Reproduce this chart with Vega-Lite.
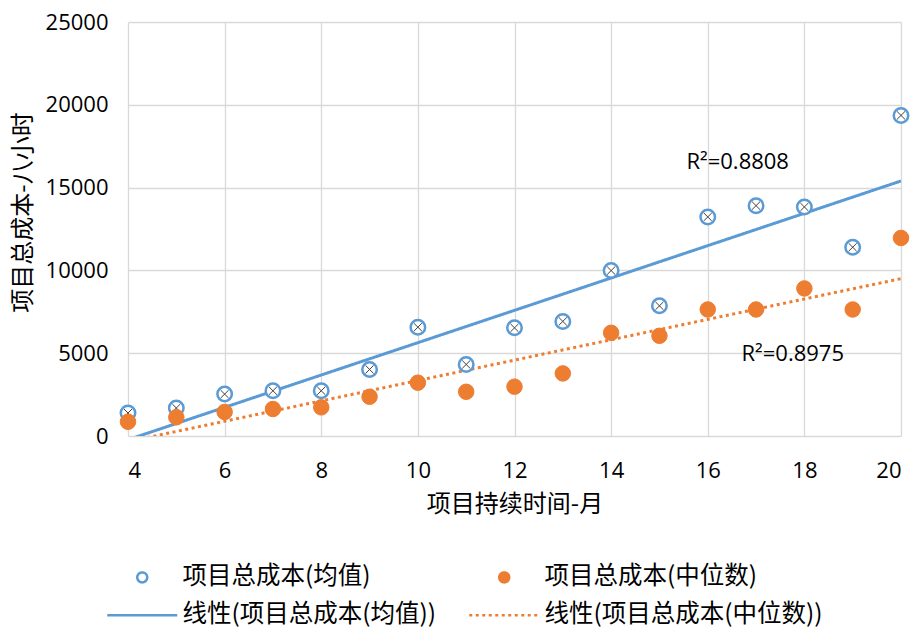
{
  "$schema": "https://vega.github.io/schema/vega-lite/v6.json",
  "width": 773,
  "height": 414,
  "autosize": "none",
  "padding": {"left": 128, "top": 22, "right": 15, "bottom": 193},
  "background": "white",
  "data": {"values": [
    {"x": 4, "mean": 1390, "median": 860},
    {"x": 5, "mean": 1690, "median": 1130},
    {"x": 6, "mean": 2530, "median": 1450},
    {"x": 7, "mean": 2730, "median": 1630},
    {"x": 8, "mean": 2730, "median": 1730},
    {"x": 9, "mean": 4020, "median": 2370},
    {"x": 10, "mean": 6570, "median": 3220},
    {"x": 11, "mean": 4320, "median": 2670},
    {"x": 12, "mean": 6530, "median": 2980},
    {"x": 13, "mean": 6920, "median": 3780},
    {"x": 14, "mean": 9990, "median": 6230},
    {"x": 15, "mean": 7860, "median": 6050},
    {"x": 16, "mean": 13230, "median": 7640},
    {"x": 17, "mean": 13910, "median": 7640},
    {"x": 18, "mean": 13830, "median": 8910},
    {"x": 19, "mean": 11400, "median": 7640},
    {"x": 20, "mean": 19360, "median": 11960}
  ]},
  "config": {
    "view": {"stroke": null},
    "axis": {
      "labelFont": "Open Sans", "labelFontSize": 22, "labelColor": "#000",
      "titleFont": "Noto Sans CJK SC", "titleFontSize": 24, "titleFontWeight": "normal", "titleColor": "#000",
      "ticks": false, "domain": false, "gridColor": "#d9d9d9", "gridWidth": 1.3
    },
    "axisX": {"labelPadding": 24, "titlePadding": 11},
    "axisY": {"labelPadding": 20, "titlePadding": 10, "titleY": 190, "format": "d"},
    "legend": {
      "labelFont": "Noto Sans CJK SC", "labelFontSize": 24.5, "labelColor": "#000", "labelLimit": 600,
      "symbolSize": 100, "symbolStrokeWidth": 2.5, "labelOffset": 28, "rowPadding": 13, "columnPadding": 27,
      "padding": 0, "direction": "horizontal"
    }
  },
  "layer": [
    {
      "transform": [{"regression": "mean", "on": "x", "extent": [4, 20]}],
      "mark": {"type": "line", "clip": true, "strokeWidth": 3},
      "encoding": {
        "x": {"field": "x", "type": "quantitative", "scale": {"domain": [4, 20], "nice": false, "zero": false}, "axis": {"values": [4, 6, 8, 10, 12, 14, 16, 18, 20], "title": "项目持续时间-月"}},
        "y": {"field": "mean", "type": "quantitative", "scale": {"domain": [0, 25000], "nice": false}, "axis": {"values": [0, 5000, 10000, 15000, 20000, 25000], "title": "项目总成本-八小时"}},
        "stroke": {"datum": "线性(项目总成本(均值))", "type": "nominal",
          "scale": {"domain": ["项目总成本(均值)", "项目总成本(中位数)", "线性(项目总成本(均值))", "线性(项目总成本(中位数))"], "range": ["#5B9BD5", "#ED7D31", "#5B9BD5", "#ED7D31"]},
          "legend": {"title": null, "orient": "none", "columns": 2, "direction": "horizontal", "legendX": 2, "legendY": 543}},
        "strokeDash": {"datum": "线性(项目总成本(均值))", "type": "nominal",
          "scale": {"domain": ["项目总成本(均值)", "项目总成本(中位数)", "线性(项目总成本(均值))", "线性(项目总成本(中位数))"], "range": [[1, 0], [1, 0], [1, 0], [3, 3.5]]},
          "legend": {"title": null, "orient": "none", "columns": 2, "direction": "horizontal", "legendX": 2, "legendY": 543}}
      }
    },
    {
      "transform": [{"regression": "median", "on": "x", "extent": [4, 20]}],
      "mark": {"type": "line", "clip": true, "strokeWidth": 3},
      "encoding": {
        "x": {"field": "x", "type": "quantitative", "scale": {"domain": [4, 20], "nice": false, "zero": false}, "axis": {"values": [4, 6, 8, 10, 12, 14, 16, 18, 20], "title": "项目持续时间-月"}},
        "y": {"field": "median", "type": "quantitative", "scale": {"domain": [0, 25000], "nice": false}, "axis": {"values": [0, 5000, 10000, 15000, 20000, 25000], "title": "项目总成本-八小时"}},
        "stroke": {"datum": "线性(项目总成本(中位数))", "type": "nominal"},
        "strokeDash": {"datum": "线性(项目总成本(中位数))", "type": "nominal"}
      }
    },
    {
      "mark": {"type": "point", "size": 210, "strokeWidth": 2.5, "opacity": 1},
      "encoding": {
        "x": {"field": "x", "type": "quantitative"},
        "y": {"field": "mean", "type": "quantitative", "title": "项目总成本-八小时"},
        "stroke": {"datum": "项目总成本(均值)", "type": "nominal"},
        "fill": {"datum": "项目总成本(均值)", "type": "nominal",
          "scale": {"domain": ["项目总成本(均值)", "项目总成本(中位数)", "线性(项目总成本(均值))", "线性(项目总成本(中位数))"], "range": ["#ffffff", "#ED7D31", "#ffffff", "#ffffff"]},
          "legend": {"title": null, "orient": "none", "columns": 2, "direction": "horizontal", "legendX": 2, "legendY": 543}},
        "shape": {"datum": "项目总成本(均值)", "type": "nominal",
          "scale": {"domain": ["项目总成本(均值)", "项目总成本(中位数)", "线性(项目总成本(均值))", "线性(项目总成本(中位数))"], "range": ["circle", "circle", "M-7,0H7", "M-7,0H7"]},
          "legend": {"title": null, "orient": "none", "columns": 2, "direction": "horizontal", "legendX": 2, "legendY": 543}}
      }
    },
    {
      "mark": {"type": "point", "size": 210, "shape": "M-0.55,-0.55L0.55,0.55M-0.55,0.55L0.55,-0.55", "stroke": "#404040", "strokeWidth": 1, "fill": null, "opacity": 1},
      "encoding": {
        "x": {"field": "x", "type": "quantitative"},
        "y": {"field": "mean", "type": "quantitative", "title": "项目总成本-八小时"}
      }
    },
    {
      "mark": {"type": "point", "size": 240, "strokeWidth": 1, "opacity": 1},
      "encoding": {
        "x": {"field": "x", "type": "quantitative"},
        "y": {"field": "median", "type": "quantitative", "title": "项目总成本-八小时"},
        "stroke": {"datum": "项目总成本(中位数)", "type": "nominal"},
        "fill": {"datum": "项目总成本(中位数)", "type": "nominal"},
        "shape": {"datum": "项目总成本(中位数)", "type": "nominal"}
      }
    },
    {
      "data": {"values": [
        {"x": 16.62, "y": 16530, "t": "R²=0.8808"},
        {"x": 17.76, "y": 4950, "t": "R²=0.8975"}
      ]},
      "mark": {"type": "text", "font": "Open Sans", "fontSize": 22, "color": "#000"},
      "encoding": {
        "x": {"field": "x", "type": "quantitative"},
        "y": {"field": "y", "type": "quantitative", "title": "项目总成本-八小时"},
        "text": {"field": "t"}
      }
    }
  ]
}
